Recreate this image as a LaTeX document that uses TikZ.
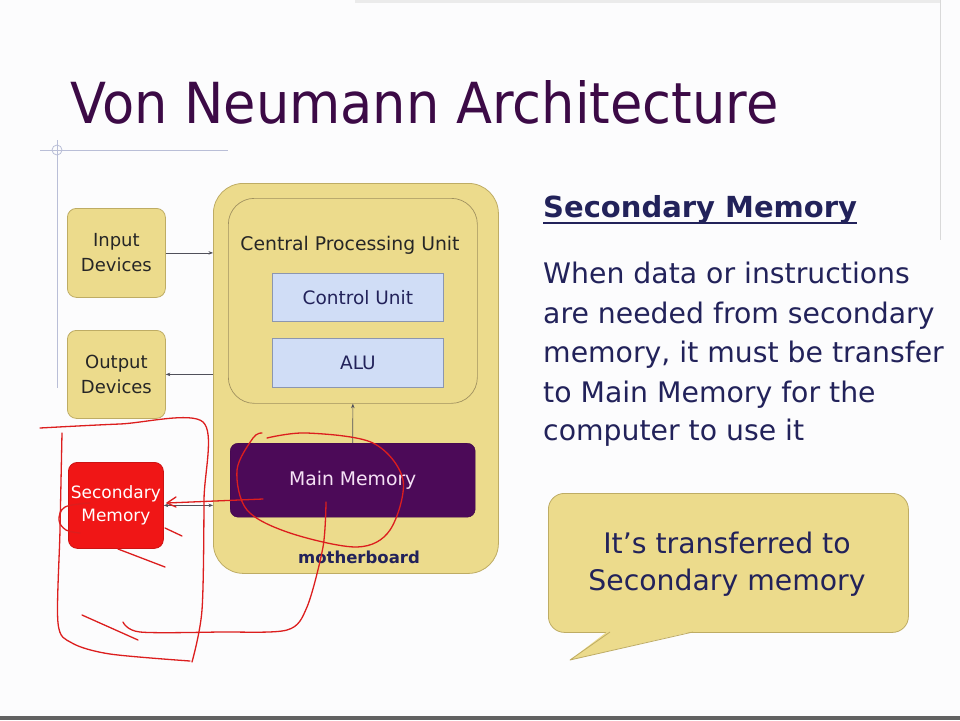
\documentclass[tikz,border=0pt]{standalone}
\usepackage{fontspec}
\setmainfont{DejaVu Sans}
\usetikzlibrary{arrows.meta,calc}
\definecolor{khaki}{RGB}{236,219,140}
\definecolor{khakiline}{RGB}{190,172,100}
\definecolor{cpuline}{RGB}{160,145,95}
\definecolor{cublue}{RGB}{208,221,246}
\definecolor{culine}{RGB}{140,150,175}
\definecolor{mmpurple}{RGB}{76,10,88}
\definecolor{mmtext}{RGB}{245,225,245}
\definecolor{secred}{RGB}{240,22,22}
\definecolor{navy}{RGB}{34,34,90}
\definecolor{titlecol}{RGB}{60,10,70}
\definecolor{inkred}{RGB}{220,30,30}
\definecolor{deco}{RGB}{185,190,215}
\definecolor{arrcol}{RGB}{80,80,90}
\definecolor{bgcol}{RGB}{252,252,253}
\begin{document}
\begin{tikzpicture}[x=1pt,y=-1pt,
  ybox/.style={draw=khakiline, fill=khaki, rounded corners=9pt, line width=0.8pt, align=center, font=\fontsize{18}{25}\selectfont, text=black!85, anchor=north west, inner sep=0pt},
  bluebox/.style={draw=culine, fill=cublue, line width=0.8pt, anchor=north west, inner sep=0pt, font=\fontsize{18.5}{22}\selectfont, text=navy},
  conn/.style={draw=arrcol, line width=0.6pt, -{Stealth[length=4.5pt,width=3.5pt]}},
  ink/.style={draw=inkred, line width=1.3pt, line cap=round, line join=round},
  para/.style={anchor=base west, inner sep=0pt, text=navy, font=\fontsize{28.3}{39}\selectfont}
]
\useasboundingbox (0,0) rectangle (960,720);
\fill[bgcol] (0,0) rectangle (960,720);
% slide decorations
\fill[black!8] (355,0) rectangle (940,3);
\draw[black!15, line width=0.8pt] (940,0) -- (940,240);
\fill[black!62] (0,716) rectangle (960,720);
\draw[deco, line width=0.8pt] (40,150) -- (228,150);
\draw[deco, line width=0.8pt] (57,140) -- (57,388);
\draw[deco, line width=0.8pt] (57,150) circle (5);

% title
\node[anchor=base west, inner sep=0pt, text=titlecol] (title) at (70,123) {\resizebox{708pt}{43pt}{Von Neumann Architecture}};

% motherboard
\node[draw=khakiline, fill=khaki, rounded corners=30pt, line width=0.8pt, minimum width=285pt, minimum height=390pt, anchor=north west, inner sep=0pt] (mb) at (213,183) {};
\node[draw=cpuline, fill=khaki, rounded corners=26pt, line width=0.7pt, minimum width=249pt, minimum height=205pt, anchor=north west, inner sep=0pt] (cpu) at (228,198) {};
\node[anchor=base, inner sep=0pt, text=black!85, font=\fontsize{18.8}{22}\selectfont] (cpulabel) at (350,250) {Central Processing Unit};
\node[bluebox, minimum width=171pt, minimum height=48pt] (cu) at (272,273) {Control Unit};
\node[bluebox, minimum width=171pt, minimum height=49pt] (alu) at (272,338) {ALU};
\node[draw=mmpurple!80!black, fill=mmpurple, rounded corners=8pt, minimum width=245pt, minimum height=74pt, anchor=north west, inner sep=0pt, text=mmtext, font=\fontsize{18.8}{22}\selectfont] (mm) at (230,443) {Main Memory};
\node[anchor=base, inner sep=0pt, text=navy, font=\fontsize{16.5}{20}\bfseries\selectfont] (mblabel) at (359,563) {motherboard};

% left devices
\node[ybox, minimum width=98pt, minimum height=89pt] (inp) at (67,208) {Input\\Devices};
\node[ybox, minimum width=98pt, minimum height=88pt] (out) at (67,330) {Output\\Devices};
\node[draw=secred!85!black, fill=secred, rounded corners=9pt, line width=0.8pt, minimum width=95pt, minimum height=86pt, anchor=north west, inner sep=0pt, align=center, text=white, font=\fontsize{17}{23}\selectfont] (sec) at (68,462) {Secondary\\Memory};

% connectors
\draw[conn] (inp.east) -- (inp.east -| mb.west);
\draw[conn] (out.east -| mb.west) -- (out.east);
\draw[conn] (mm.north) -- (cpu.south);
\draw[conn, {Stealth[length=4.5pt,width=3.5pt]}-{Stealth[length=4.5pt,width=3.5pt]}] (sec.east) -- (sec.east -| mb.west);

% right text
\node[anchor=base west, inner sep=0pt, text=navy, font=\fontsize{29}{34}\bfseries\selectfont] (hd) at (543,217) {Secondary Memory};
\draw[navy, line width=1.6pt] ($(hd.base west)+(0,6)$) -- ($(hd.base east)+(0,6)$);
\node[para] (p1) at (543,283) {When data or instructions};
\node[para] (p2) at (543,323) {are needed from secondary};
\node[para] (p3) at (543,362) {memory, it must be transfer};
\node[para] (p4) at (543,402) {to Main Memory for the};
\node[para] (p5) at (543,440) {computer to use it};

% speech bubble
\node[draw=khakiline, fill=khaki, rounded corners=16pt, line width=0.8pt, minimum width=360pt, minimum height=139pt, anchor=north west, inner sep=0pt] (bub) at (548,493) {};
\fill[khaki] (608,631) -- (570,660) -- (695,631) -- cycle;
\draw[khakiline, line width=0.8pt, line join=round] (610,632) -- (570,660) -- (693,632);
\node[anchor=base, inner sep=0pt, text=navy, font=\fontsize{28.3}{34}\selectfont] (b1) at (727,553) {It’s transferred to};
\node[anchor=base, inner sep=0pt, text=navy, font=\fontsize{28.3}{34}\selectfont] (b2) at (727,590) {Secondary memory};

% handwritten red annotations
\draw[ink] plot[smooth, tension=0.5] coordinates {(40,428) (120,424) (203,422) (204,500) (202,610) (192,662)};
\draw[ink] plot[smooth, tension=0.5] coordinates {(62,433) (60,530) (58,623) (72,643) (110,654) (190,661)};
\draw[ink] plot[smooth, tension=0.5] coordinates {(263,499) (215,501) (167,503)};
\draw[ink] (176,497) -- (167,503) -- (176,507);
\draw[ink] plot[smooth, tension=0.6] coordinates {(90,503) (65,507) (59,520) (66,530) (80,533)};
\draw[ink] (165,528) -- (182,536);
\draw[ink] (118,549) -- (165,567);
\draw[ink] (82,615) -- (138,640);
\draw[ink] plot[smooth, tension=0.5] coordinates {(326,502) (323,547) (307,607) (287,630) (220,632) (140,632) (123,622)};
\draw[ink] plot[smooth, tension=0.55] coordinates {(267,438) (307,433) (373,443) (403,480) (390,530) (357,547) (290,533) (247,510) (237,470) (253,438) (262,433)};
\end{tikzpicture}
\end{document}
